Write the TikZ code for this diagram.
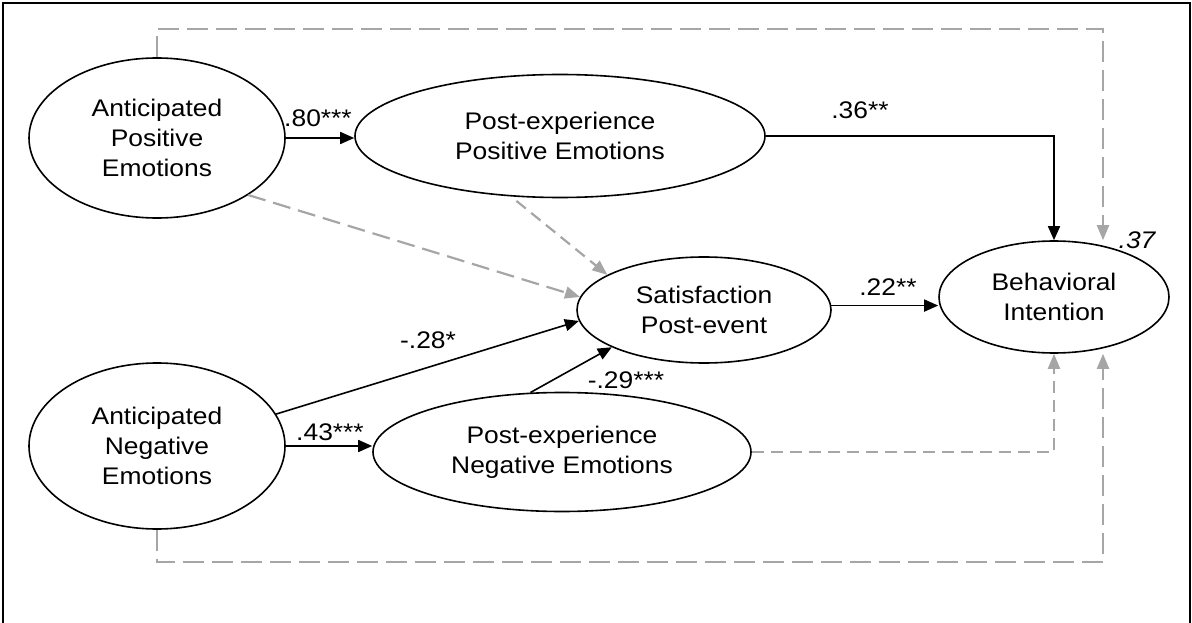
\documentclass[tikz,border=0pt]{standalone}
\usepackage{fontspec}
\setmainfont{Liberation Sans}[FakeStretch=1.1]
\usetikzlibrary{shapes.geometric,arrows.meta}
\definecolor{dgray}{HTML}{A6A6A6}
\begin{document}
\begin{tikzpicture}[x=1pt,y=-1pt,
  lat/.style={ellipse,draw,line width=1.6pt,inner sep=0pt,align=center,font=\fontsize{24}{30}\selectfont},
  coef/.style={font=\fontsize{24}{30}\selectfont,inner sep=0pt},
  arr/.style={line width=1.6pt,-{Triangle[length=14pt,width=12pt]}},
  garr/.style={draw=dgray,line width=2.2pt,-{Triangle[length=15pt,width=12pt]}},
  longdash/.style={dash pattern=on 21pt off 8pt},
  middash/.style={dash pattern=on 18pt off 8pt},
  shortdash/.style={dash pattern=on 12pt off 7pt}
]
\useasboundingbox (0,0) rectangle (1192,623);
\draw[line width=1.6pt] (3,623) -- (3,3) -- (1190,3) -- (1190,623);

\node[lat,minimum width=256pt,minimum height=160pt] (ape) at (157,138) {Anticipated\\Positive\\Emotions};
\node[lat,minimum width=410pt,minimum height=123pt] (ppe) at (560,136) {Post-experience\\Positive Emotions};
\node[lat,minimum width=254pt,minimum height=106pt] (sat) at (704,310) {Satisfaction\\Post-event};
\node[lat,minimum width=230pt,minimum height=112pt] (bi) at (1054,297) {Behavioral\\Intention};
\node[lat,minimum width=256pt,minimum height=166pt] (apn) at (157,446) {Anticipated\\Negative\\Emotions};
\node[lat,minimum width=378pt,minimum height=119pt] (ppn) at (562,452) {Post-experience\\Negative Emotions};

\coordinate (tr) at (1103,29);
\coordinate (br) at (1103,562);

% gray dashed paths
\draw[garr,longdash] (ape.north) |- (tr) -- (tr |- bi.north);
\draw[garr,longdash] (apn.south) |- (br) -- (br |- bi.south);
\draw[garr,middash] (ape.-32.2) -- (sat.174);
\draw[garr,shortdash,shorten <=7pt] (ppe.231.6) -- (sat.160.8);
\draw[garr,shortdash] (ppn.east) -| (bi.south);

% black paths
\draw[arr] (ape.east) -- (ape.east -| ppe.west);
\draw[arr] (apn.east) -- (apn.east -| ppn.west);
\draw[arr] (ppe.east) -| (bi.north);
\draw[arr] (sat.2.7) -- (sat.2.7 -| bi.west);
\draw[arr] (apn.15.1) -- (sat.185.4);
\draw[arr] (ppn.118.5) -- (sat.202.2);

% coefficients
\node[coef] (l80) at (318,118) {.80***};
\node[coef] (l36) at (860,110) {.36**};
\node[coef] (l22) at (888,287) {.22**};
\node[coef] (l28) at (428,340) {-.28*};
\node[coef] (l29) at (626,380) {-.29***};
\node[coef] (l43) at (330,432) {.43***};
\node[coef,font=\fontsize{24}{30}\selectfont\itshape] (r2) at (1137,240) {.37};
\end{tikzpicture}
\end{document}
